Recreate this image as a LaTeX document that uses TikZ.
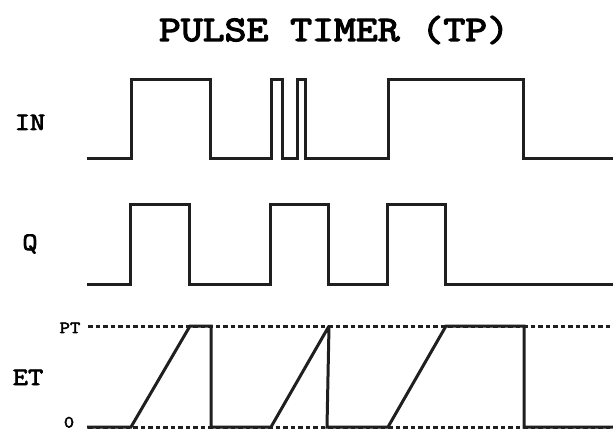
\documentclass[tikz,border=0pt]{standalone}
\usepackage{fontspec}
\newfontfamily\courbold{Latin Modern Mono}[FakeBold=3,FakeStretch=1.18]
\newfontfamily\courtitle{Latin Modern Mono}[FakeBold=3.6,FakeStretch=1.18]
\begin{document}
\begin{tikzpicture}[x=1pt,y=-1pt,
  wave/.style={line width=3pt,line join=miter,miter limit=2,color=black!88},
  guide/.style={line width=3pt,dash pattern=on 4.5pt off 3pt,color=black!88},
  lbl/.style={font=\courbold\fontsize{25}{25}\selectfont,anchor=base,inner sep=0pt},
  small/.style={font=\courbold\fontsize{17}{17}\selectfont,anchor=base,inner sep=0pt},
  ttl/.style={font=\courtitle\fontsize{36}{36}\selectfont,anchor=base,inner sep=0pt}]
\useasboundingbox (0,0) rectangle (613,430);
\node[ttl] (title) at (334,41) {PULSE TIMER (TP)};
\node[lbl] (lin) at (30,130) {IN};
\node[lbl] (lq) at (30,250) {Q};
\node[lbl] (let) at (28,385) {ET};
\node[small] (lpt) at (70,333) {PT};
\node[small] (lzero) at (69,427.5) {0};
% guides
\draw[guide] (88,326) -- (613,326);
\draw[guide] (88,427) -- (613,427);
% IN
\draw[wave] (87,159) -- (131,159) -- (131,80) -- (210,80) -- (210,159) -- (271,159) -- (271,80) -- (282,80) -- (282,159)
  -- (297,159) -- (297,80) -- (305,80) -- (305,159) -- (388,159) -- (388,80) -- (523,80) -- (523,159) -- (613,159);
% Q
\draw[wave] (87,285) -- (130,285) -- (130,205) -- (189,205) -- (189,285) -- (270,285) -- (270,205) -- (328,205) -- (328,285)
  -- (387,285) -- (387,205) -- (445,205) -- (445,285) -- (613,285);
% ET
\draw[wave] (87,427) -- (131,427) -- (190,326) -- (211,326) -- (211,427) -- (271,427) -- (329,326) -- (327,427) -- (388,427)
  -- (446,326) -- (524,326) -- (524,427) -- (613,427);
\end{tikzpicture}
\end{document}
